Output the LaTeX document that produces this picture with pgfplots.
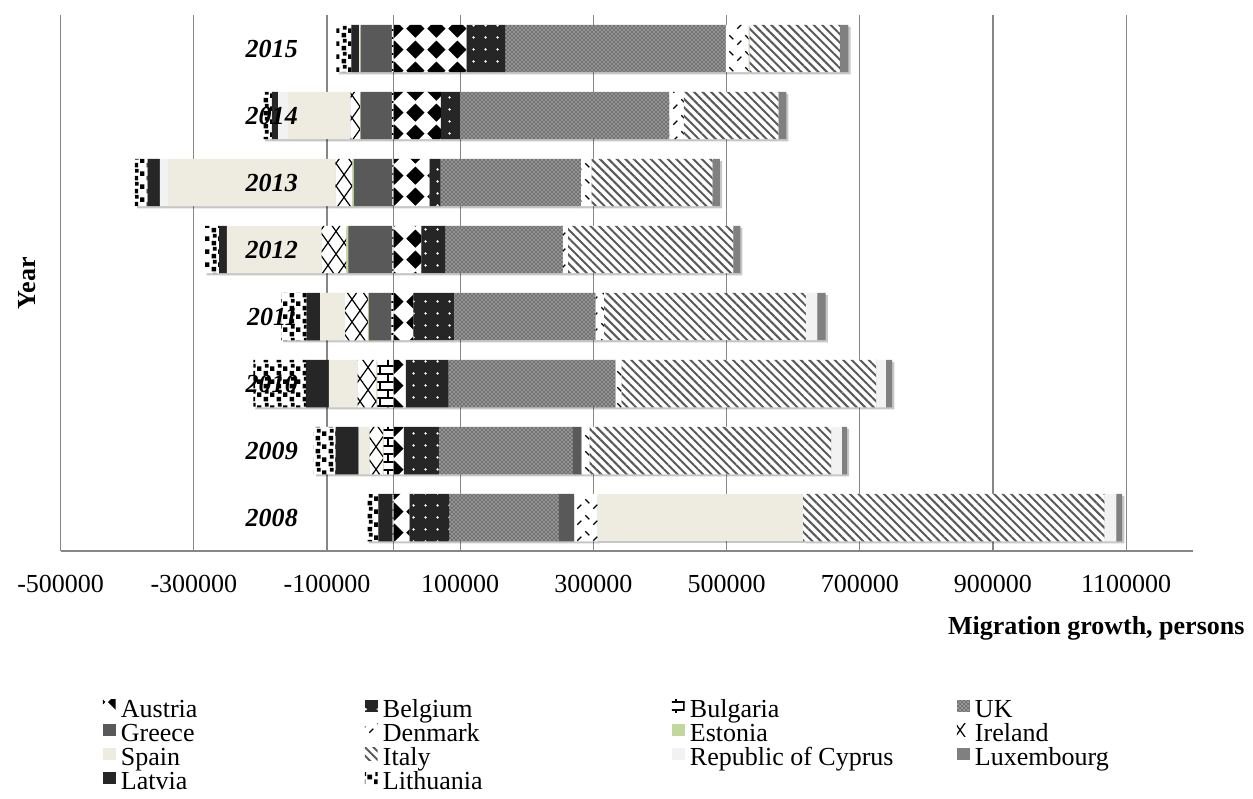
\documentclass[border=0pt]{standalone}
\usepackage{fontspec}
\setmainfont{Liberation Serif}
\usepackage{pgfplots}
\pgfplotsset{compat=1.18}
\usepackage{pgfplotstable}
\usetikzlibrary{patterns,patterns.meta,shadows}

\newcommand{\fs}{\fontsize{19.5pt}{23pt}\selectfont}

\definecolor{gridgray}{HTML}{868686}
\definecolor{greececol}{HTML}{595959}
\definecolor{spaincol}{HTML}{EEECE1}
\definecolor{cypruscol}{HTML}{F2F2F2}
\definecolor{luxcol}{HTML}{808080}
\definecolor{darkcol}{HTML}{262626}
\definecolor{estoniacol}{HTML}{C3D69B}

% patterns
\pgfdeclarepatternformonly{diamondgrid}{\pgfqpoint{0pt}{0pt}}{\pgfqpoint{16pt}{16pt}}{\pgfqpoint{16pt}{16pt}}{%
  \pgfpathmoveto{\pgfqpoint{8pt}{1pt}}\pgfpathlineto{\pgfqpoint{15pt}{8pt}}%
  \pgfpathlineto{\pgfqpoint{8pt}{15pt}}\pgfpathlineto{\pgfqpoint{1pt}{8pt}}%
  \pgfpathclose\pgfusepath{fill}}
\pgfdeclarepatternformonly{sparsedots}{\pgfqpoint{0pt}{0pt}}{\pgfqpoint{9pt}{9pt}}{\pgfqpoint{9pt}{9pt}}{%
  \pgfpathcircle{\pgfqpoint{4.5pt}{4.5pt}}{1.1pt}\pgfusepath{fill}}
\pgfdeclarepatternformonly{bigbricks}{\pgfqpoint{-0.5pt}{-0.5pt}}{\pgfqpoint{12.5pt}{12.5pt}}{\pgfqpoint{12pt}{12pt}}{%
  \pgfsetlinewidth{0.9pt}%
  \pgfpathmoveto{\pgfqpoint{0pt}{0pt}}\pgfpathlineto{\pgfqpoint{12pt}{0pt}}%
  \pgfpathmoveto{\pgfqpoint{0pt}{6pt}}\pgfpathlineto{\pgfqpoint{12pt}{6pt}}%
  \pgfpathmoveto{\pgfqpoint{3pt}{0pt}}\pgfpathlineto{\pgfqpoint{3pt}{6pt}}%
  \pgfpathmoveto{\pgfqpoint{9pt}{6pt}}\pgfpathlineto{\pgfqpoint{9pt}{12pt}}%
  \pgfusepath{stroke}}
\pgfdeclarepatternformonly{dashdiag}{\pgfqpoint{-0.5pt}{-0.5pt}}{\pgfqpoint{12.5pt}{12.5pt}}{\pgfqpoint{12pt}{12pt}}{%
  \pgfsetlinewidth{0.9pt}%
  \pgfpathmoveto{\pgfqpoint{1pt}{1pt}}\pgfpathlineto{\pgfqpoint{4pt}{4pt}}%
  \pgfpathmoveto{\pgfqpoint{7pt}{8pt}}\pgfpathlineto{\pgfqpoint{10pt}{5pt}}%
  \pgfusepath{stroke}}
\pgfdeclarepatternformonly{lattice}{\pgfqpoint{-1pt}{-1pt}}{\pgfqpoint{13pt}{18pt}}{\pgfqpoint{12pt}{17pt}}{%
  \pgfsetlinewidth{0.9pt}%
  \pgfpathmoveto{\pgfqpoint{0pt}{0pt}}\pgfpathlineto{\pgfqpoint{12pt}{17pt}}%
  \pgfpathmoveto{\pgfqpoint{0pt}{17pt}}\pgfpathlineto{\pgfqpoint{12pt}{0pt}}%
  \pgfusepath{stroke}}
\pgfdeclarepatternformonly{confetti}{\pgfqpoint{0pt}{0pt}}{\pgfqpoint{10pt}{10pt}}{\pgfqpoint{10pt}{10pt}}{%
  \pgfpathrectangle{\pgfqpoint{0.5pt}{0.5pt}}{\pgfqpoint{3.5pt}{3.5pt}}%
  \pgfpathrectangle{\pgfqpoint{5.5pt}{4pt}}{\pgfqpoint{3.5pt}{3.5pt}}%
  \pgfpathrectangle{\pgfqpoint{1.5pt}{6.5pt}}{\pgfqpoint{3pt}{3pt}}%
  \pgfusepath{fill}}

\pgfplotsset{
  sAustria/.style={draw=none, fill=white, postaction={pattern=diamondgrid, pattern color=black}},
  sBelgium/.style={draw=none, fill=darkcol, postaction={pattern=sparsedots, pattern color=white}},
  sBulgaria/.style={draw=none, fill=white, postaction={pattern=bigbricks, pattern color=black}},
  sUK/.style={draw=none, fill=black!55, postaction={pattern=crosshatch dots, pattern color=white}},
  sGreece/.style={draw=none, fill=greececol},
  sDenmark/.style={draw=none, fill=white, postaction={pattern=dashdiag, pattern color=black}},
  sEstonia/.style={draw=none, fill=estoniacol},
  sIreland/.style={draw=none, fill=white, postaction={pattern=lattice, pattern color=black}},
  sSpain/.style={draw=none, fill=spaincol},
  sItaly/.style={draw=none, fill=white, postaction={pattern={Lines[angle=-45,distance=4.5pt,line width=1.5pt]}, pattern color=black!65}},
  sCyprus/.style={draw=none, fill=cypruscol},
  sLux/.style={draw=none, fill=luxcol},
  sLatvia/.style={draw=none, fill=darkcol},
  sLithuania/.style={draw=none, fill=white, postaction={pattern=confetti, pattern color=black}},
  barshadow/.style={drop shadow={shadow xshift=1.6pt, shadow yshift=-1.6pt, opacity=0.22, fill=black}},
  commonaxis/.style={
    scale only axis, width=849pt, height=402pt,
    xmin=-500000, xmax=1200000, ymin=-0.5, ymax=7.5,
    at={(0pt,0pt)}, anchor=south west,
  },
}

% positive parts of migration growth (persons), rows 0..7 = 2008..2015
\pgfplotstableread{
Y Austria Belgium Bulgaria UK Greece Denmark Estonia Ireland Spain Italy Cyprus Luxembourg Latvia Lithuania
0 24000 60000 0 164000 23500 35000 0 0 308500 452700 17500 8800 0 0
1 15500 52500 0 201000 13400 12000 0 0 0 363000 16000 7500 0 0
2 18500 64000 0 251000 0 9000 0 0 0 382500 14400 9200 0 0
3 29500 61500 0 212500 0 12500 0 0 0 303000 17400 12300 0 0
4 41500 36500 0 176000 0 8000 0 0 0 248000 0 10500 0 0
5 54000 16500 0 211000 0 16000 0 0 0 181500 0 11000 0 0
6 71000 29000 0 314000 0 22000 0 0 0 142000 0 11700 0 0
7 109500 58500 0 331000 0 34000 1500 0 0 135600 0 12900 0 0
}\posdata

% negative parts
\pgfplotstableread{
Y Bulgaria Greece Estonia Ireland Spain Cyprus Latvia Lithuania
0 -1500 0 0 0 0 0 -21500 -17500
1 -15000 0 -1000 -20000 -16500 0 -34500 -33000
2 -24500 0 -1200 -28500 -43000 0 -34500 -79000
3 -3500 -33500 -1500 -34500 -37500 0 -20000 -38500
4 -2000 -66000 -3000 -37000 -142500 0 -11500 -22000
5 -2000 -57600 -2400 -25000 -251500 -12500 -18500 -19000
6 -2500 -47000 -1000 -14000 -94000 -15000 -9500 -13000
7 -2500 -47000 0 0 -2500 0 -11400 -22500
}\negdata

\begin{document}
\begin{tikzpicture}
\path[use as bounding box] (-45.5pt,-185.25pt) rectangle (894.2pt,413.25pt);

% grid, x axis, titles and the negative parts
\begin{axis}[commonaxis,
  xbar stacked, bar width=35.6pt,
  axis x line*=bottom, axis y line*=left,
  x axis line style={gridgray, line width=0.9pt, -},
  y axis line style={draw=none},
  xtick={-500000,-300000,...,1100000},
  extra x ticks={0}, extra x tick labels={}, extra x tick style={grid=major},
  ytick=\empty,
  major tick length=0pt,
  xmajorgrids, grid style={gridgray, line width=0.9pt},
  scaled x ticks=false,
  xticklabel style={font=\fs, anchor=center, yshift=-24.75pt, inner sep=0pt,
    /pgf/number format/fixed, /pgf/number format/1000 sep={},
    /pgf/number format/assume math mode=true},
  xlabel={Migration growth, persons},
  every axis x label/.style={at={(axis description cs:1,0)}, anchor=east,
    xshift=39pt, yshift=-57.75pt, inner sep=0pt, font=\fs\bfseries},
  ylabel={Year},
  every axis y label/.style={at={(axis description cs:0,0.5)}, rotate=90,
    anchor=center, yshift=25.3pt, inner sep=0pt, font=\fs\bfseries},
]
\addplot[sBulgaria, barshadow] table[x=Bulgaria, y=Y] {\negdata};
\addplot[sGreece, barshadow] table[x=Greece, y=Y] {\negdata};
\addplot[sEstonia, barshadow] table[x=Estonia, y=Y] {\negdata};
\addplot[sIreland, barshadow] table[x=Ireland, y=Y] {\negdata};
\addplot[sSpain, barshadow] table[x=Spain, y=Y] {\negdata};
\addplot[sCyprus, barshadow] table[x=Cyprus, y=Y] {\negdata};
\addplot[sLatvia, barshadow] table[x=Latvia, y=Y] {\negdata};
\addplot[sLithuania, barshadow] table[x=Lithuania, y=Y] {\negdata};
\end{axis}

% positive parts
\begin{axis}[commonaxis, hide axis,
  xbar stacked, bar width=35.6pt, reverse stacked plots=false,
]
\addplot[sAustria, barshadow] table[x=Austria, y=Y] {\posdata};
\addplot[sBelgium, barshadow] table[x=Belgium, y=Y] {\posdata};
\addplot[sUK, barshadow] table[x=UK, y=Y] {\posdata};
\addplot[sGreece, barshadow] table[x=Greece, y=Y] {\posdata};
\addplot[sDenmark, barshadow] table[x=Denmark, y=Y] {\posdata};
\addplot[sEstonia, barshadow] table[x=Estonia, y=Y] {\posdata};
\addplot[sSpain, barshadow] table[x=Spain, y=Y] {\posdata};
\addplot[sItaly, barshadow] table[x=Italy, y=Y] {\posdata};
\addplot[sCyprus, barshadow] table[x=Cyprus, y=Y] {\posdata};
\addplot[sLux, barshadow] table[x=Luxembourg, y=Y] {\posdata};
\end{axis}

% year labels and legend on top
\begin{axis}[commonaxis,
  axis x line=none, axis y line*=left, y axis line style={draw=none},
  xtick=\empty,
  ytick={0,...,7}, yticklabels={2008,2009,2010,2011,2012,2013,2014,2015},
  major tick length=0pt,
  yticklabel style={font=\fs\bfseries\itshape, anchor=east, inner sep=0pt, xshift=178pt},
  legend columns=4, legend cell align=left,
  legend image code/.code={\path[#1] (0pt,-2pt) rectangle (9.5pt,7.5pt);},
  legend style={draw=none, fill=none, at={(axis description cs:0,0)}, anchor=north west,
    xshift=31.7pt, yshift=-110pt, font=\fs, inner sep=0pt, outer sep=0pt,
    column sep=4pt, row sep=0pt,
    nodes={inner sep=0pt, text height=14.9pt, text depth=3.1pt}},
]
\addlegendimage{sAustria}\addlegendentry{\makebox[179pt][l]{Austria}}
\addlegendimage{sBelgium}\addlegendentry{\makebox[212.75pt][l]{Belgium}}
\addlegendimage{sBulgaria}\addlegendentry{\makebox[196.25pt][l]{Bulgaria}}
\addlegendimage{sUK}\addlegendentry{UK}
\addlegendimage{sGreece}\addlegendentry{\makebox[179pt][l]{Greece}}
\addlegendimage{sDenmark}\addlegendentry{\makebox[212.75pt][l]{Denmark}}
\addlegendimage{sEstonia}\addlegendentry{\makebox[196.25pt][l]{Estonia}}
\addlegendimage{sIreland}\addlegendentry{Ireland}
\addlegendimage{sSpain}\addlegendentry{\makebox[179pt][l]{Spain}}
\addlegendimage{sItaly}\addlegendentry{\makebox[212.75pt][l]{Italy}}
\addlegendimage{sCyprus}\addlegendentry{\makebox[196.25pt][l]{Republic of Cyprus}}
\addlegendimage{sLux}\addlegendentry{Luxembourg}
\addlegendimage{sLatvia}\addlegendentry{\makebox[179pt][l]{Latvia}}
\addlegendimage{sLithuania}\addlegendentry{\makebox[212.75pt][l]{Lithuania}}
\end{axis}
\end{tikzpicture}
\end{document}
